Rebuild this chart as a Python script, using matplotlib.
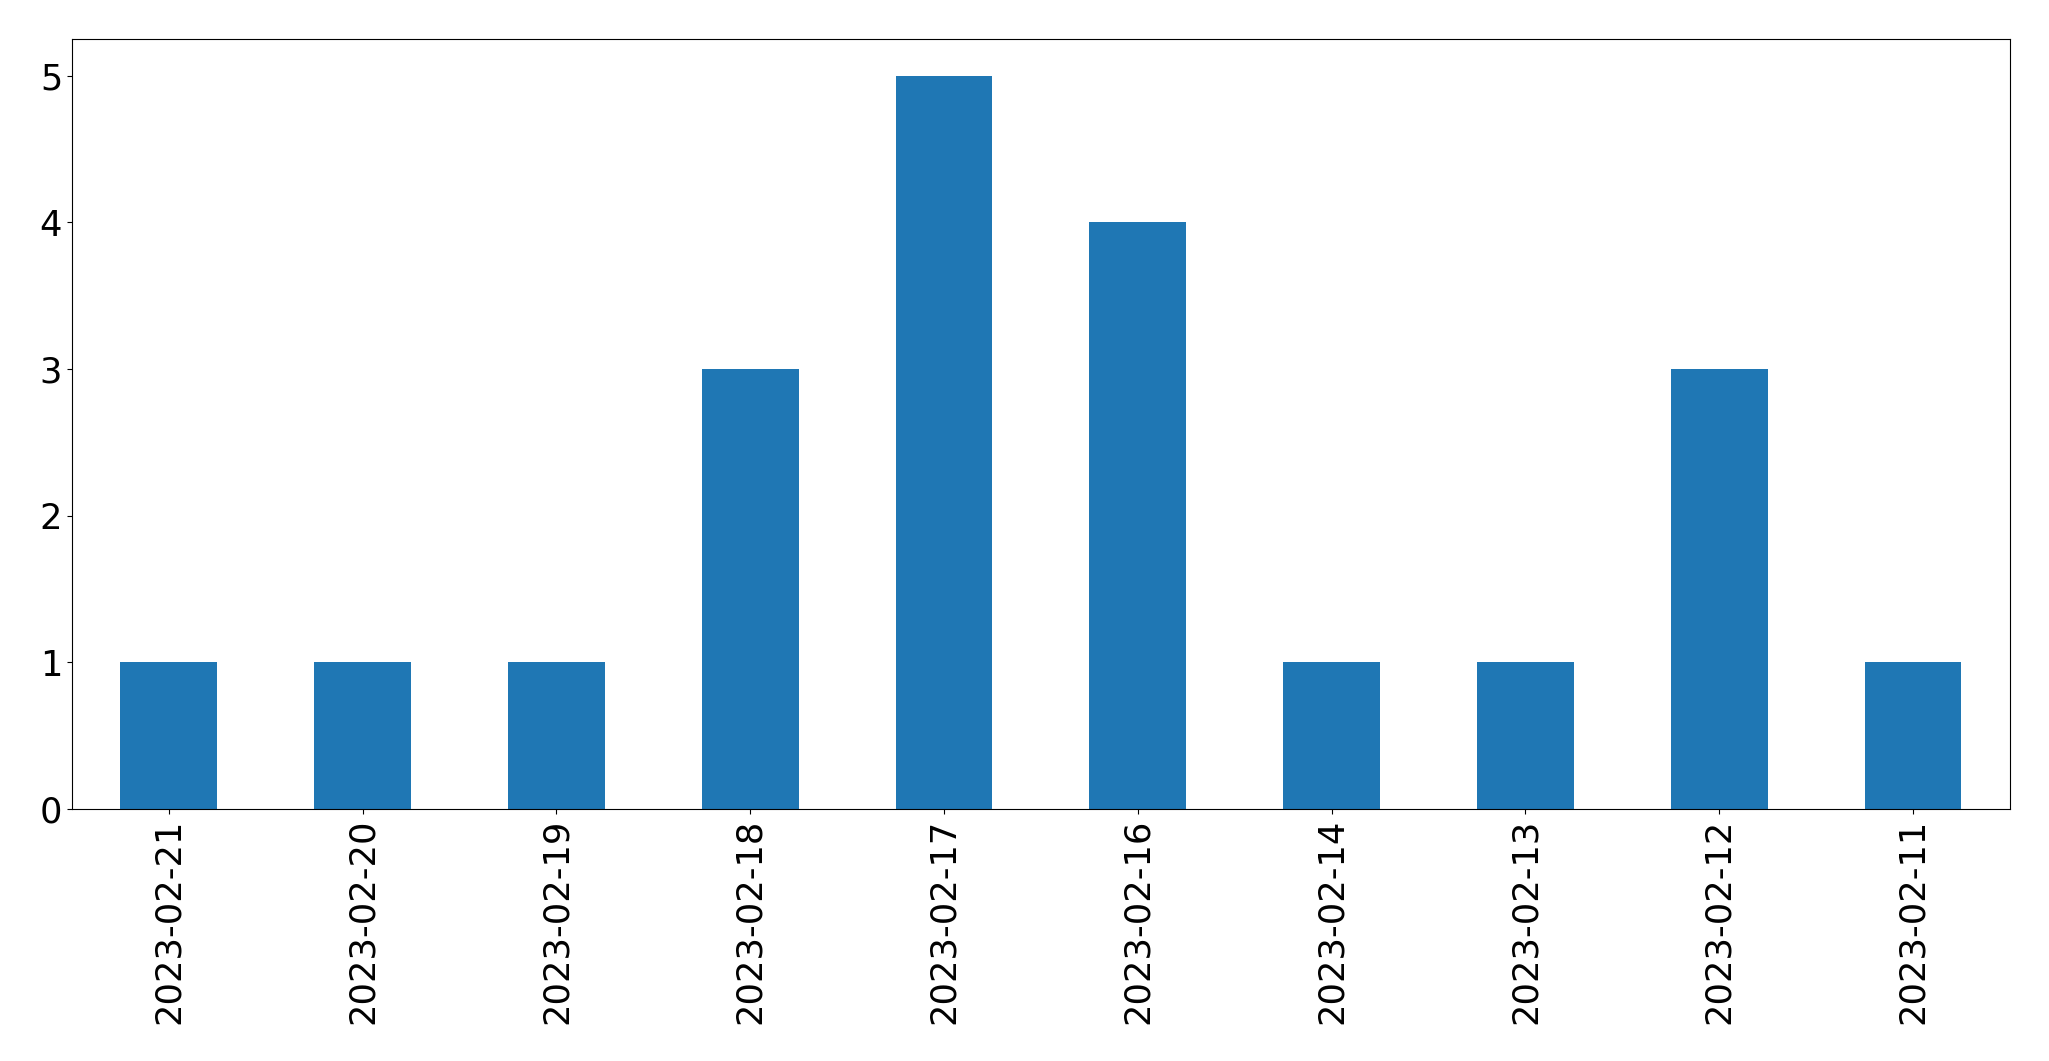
import pandas as pd
import matplotlib
matplotlib.use('Agg')
import matplotlib.pyplot as plt

dates = ['2023-02-21', '2023-02-20', '2023-02-19', '2023-02-18', '2023-02-17',
         '2023-02-16', '2023-02-14', '2023-02-13', '2023-02-12', '2023-02-11']
counts = [1, 1, 1, 3, 5, 4, 1, 1, 3, 1]

s = pd.Series(counts, index=dates)

fig = plt.figure(figsize=(20.49, 10.61), dpi=100)
ax = fig.add_axes([0.0351, 0.2375, 0.9458, 0.7257])
s.plot(kind='bar', ax=ax, fontsize=25.4)

fig.savefig('out.png', dpi=100)
